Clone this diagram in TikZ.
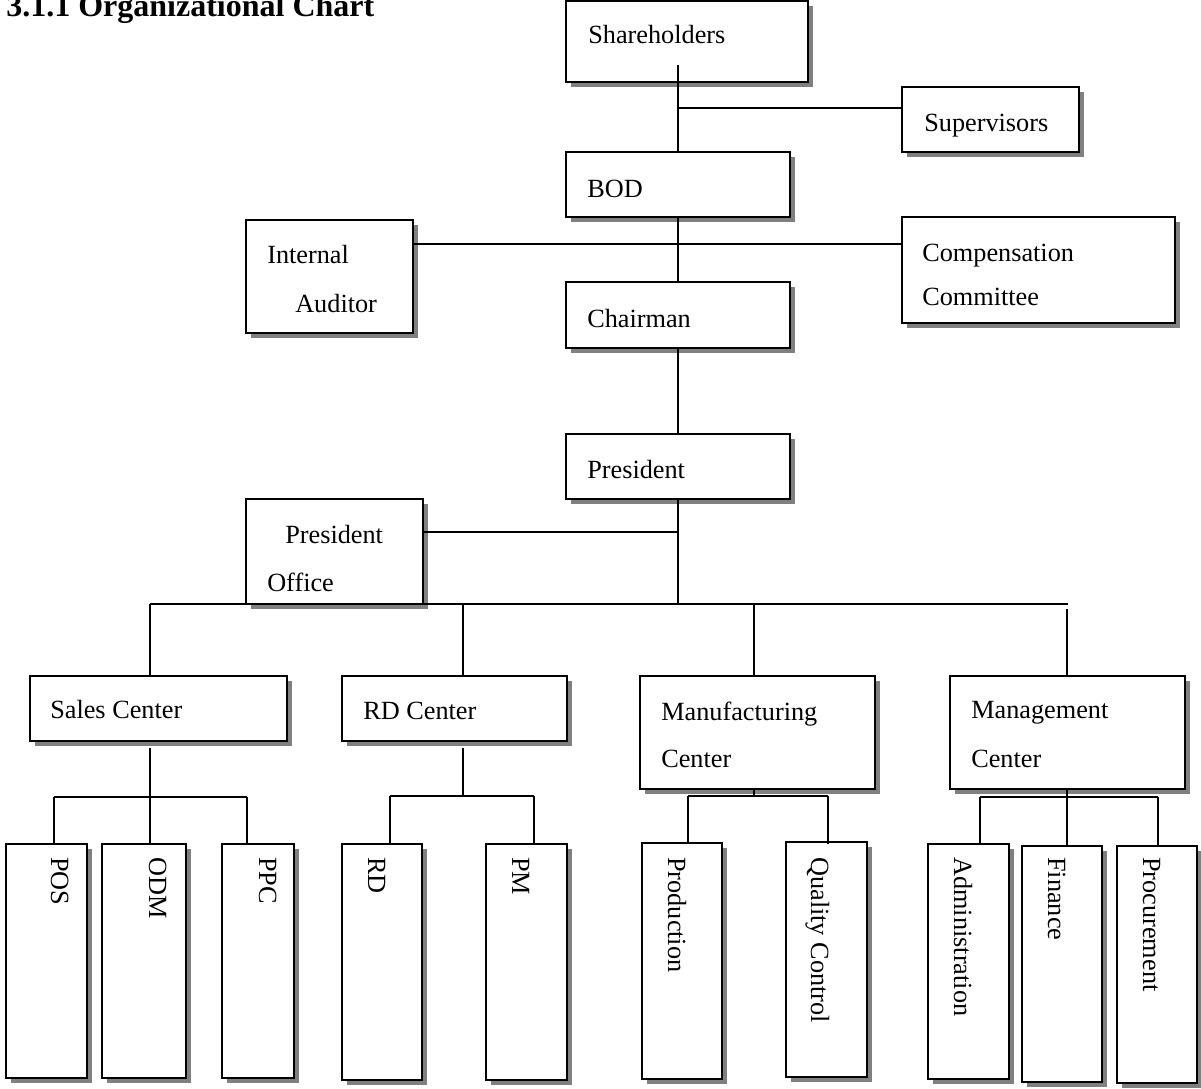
\documentclass[tikz,border=0pt]{standalone}
\usepackage{fontspec}
\setmainfont{Liberation Serif}
\usetikzlibrary{fit,shadows}
\begin{document}
\begin{tikzpicture}[x=0.75pt,y=-0.75pt,
 orgbox/.style={draw=black, line width=1.4pt, fill=white, inner sep=0pt,
   drop shadow={shadow xshift=3.6pt, shadow yshift=-3.6pt, fill=black!50, opacity=1}},
 lbl/.style={inner sep=0pt, anchor=base west, font=\fontsize{19.7}{24}\selectfont},
 vlbl/.style={lbl, rotate=-90},
 conn/.style={line width=1.2pt}]
\useasboundingbox (0,0) rectangle (1201,1088);

% title
\node[inner sep=0pt, anchor=base west, font=\fontsize{24}{28}\selectfont\bfseries] (title) at (6,17) {3.1.1 Organizational Chart};

% boxes
\node[orgbox, fit={(566,1) (808,82)}] (sh) {};
\node[orgbox, fit={(902,87) (1079,152)}] (sup) {};
\node[orgbox, fit={(566,152) (790,217)}] (bod) {};
\node[orgbox, fit={(246,220) (413,333)}] (ia) {};
\node[orgbox, fit={(902,217) (1175,323)}] (comp) {};
\node[orgbox, fit={(566,282) (790,348)}] (ch) {};
\node[orgbox, fit={(566,434) (790,499)}] (pres) {};
\node[orgbox, fit={(246,499) (423,604)}] (po) {};
\node[orgbox, fit={(30,676) (287,741)}] (sales) {};
\node[orgbox, fit={(342,676) (567,741)}] (rdc) {};
\node[orgbox, fit={(640,676) (875,789)}] (mfc) {};
\node[orgbox, fit={(950,676) (1185,789)}] (mgc) {};
\node[orgbox, fit={(6,844) (87,1078)}] (pos) {};
\node[orgbox, fit={(102,844) (186,1078)}] (odm) {};
\node[orgbox, fit={(222,844) (294,1078)}] (ppc) {};
\node[orgbox, fit={(342,844) (422,1080)}] (rd) {};
\node[orgbox, fit={(486,844) (567,1080)}] (pm) {};
\node[orgbox, fit={(642,843) (722,1079)}] (prod) {};
\node[orgbox, fit={(786,842) (867,1077)}] (qc) {};
\node[orgbox, fit={(928,844) (1009,1079)}] (adm) {};
\node[orgbox, fit={(1022,846) (1102,1082)}] (fin) {};
\node[orgbox, fit={(1117,846) (1197,1083)}] (proc) {};

% labels
\node[lbl] (tsh) at (588,44) {Shareholders};
\node[lbl] (tsup) at (924,131) {Supervisors};
\node[lbl] (tbod) at (587,197) {BOD};
\node[lbl] (tia1) at (267,263) {Internal};
\node[lbl] (tia2) at (295,312) {Auditor};
\node[lbl] (tcomp1) at (922,261) {Compensation};
\node[lbl] (tcomp2) at (922,305) {Committee};
\node[lbl] (tch) at (587,327) {Chairman};
\node[lbl] (tpres) at (587,478) {President};
\node[lbl] (tpo1) at (285,543) {President};
\node[lbl] (tpo2) at (267,591) {Office};
\node[lbl] (tsales) at (50,718) {Sales Center};
\node[lbl] (trdc) at (363,719) {RD Center};
\node[lbl] (tmfc1) at (661,720) {Manufacturing};
\node[lbl] (tmfc2) at (661,767) {Center};
\node[lbl] (tmgc1) at (971,718) {Management};
\node[lbl] (tmgc2) at (971,767) {Center};
\node[vlbl] (tpos) at (51,857) {POS};
\node[vlbl] (todm) at (149,857) {ODM};
\node[vlbl] (tppc) at (259,857) {PPC};
\node[vlbl] (trd) at (368,857) {RD};
\node[vlbl] (tpm) at (512,857) {PM};
\node[vlbl] (tprod) at (668,857) {Production};
\node[vlbl] (tqc) at (811,857) {Quality Control};
\node[vlbl] (tadm) at (954,857) {Administration};
\node[vlbl] (tfin) at (1048,857) {Finance};
\node[vlbl] (tproc) at (1143,857) {Procurement};

% junction coordinates
\coordinate (j1) at (678,65);
\coordinate (j2) at (678,108);
\coordinate (j3) at (678,244);
\coordinate (j4) at (678,532);
\coordinate (busL) at (150,604);
\coordinate (busR) at (1068,604);
\coordinate (bus) at (678,604);
\coordinate (dR) at (463,604);
\coordinate (dM) at (754,604);
\coordinate (dG) at (1067,609);

% top connectors
\draw[conn] (j1) -- (bod.north);
\draw[conn] (j2) -- (j2 -| sup.west);
\draw[conn] (bod.south) -- (ch.north);
\draw[conn] (ia.east |- j3) -- (comp.west |- j3);
\draw[conn] (ch.south) -- (pres.north);
\draw[conn] (pres.south) -- (bus);
\draw[conn] (po.east |- j4) -- (j4);
\draw[conn] (busL) -- (busR);
\draw[conn] (busL) -- (busL |- sales.north);
\draw[conn] (dR) -- (dR |- rdc.north);
\draw[conn] (dM) -- (dM |- mfc.north);
\draw[conn] (dG) -- (dG |- mgc.north);

% sales subtree
\coordinate (sS) at (150,748);
\coordinate (hS) at (150,797);
\coordinate (hS1) at (54,797);
\coordinate (hS3) at (247,797);
\draw[conn] (sS) -- (hS);
\draw[conn] (hS1) -- (hS3);
\draw[conn] (hS1) -- (hS1 |- pos.north);
\draw[conn] (hS) -- (hS |- odm.north);
\draw[conn] (hS3) -- (hS3 |- ppc.north);

% RD subtree
\coordinate (sR) at (463,748);
\coordinate (hR) at (463,796);
\coordinate (hR1) at (390,796);
\coordinate (hR2) at (534,796);
\draw[conn] (sR) -- (hR);
\draw[conn] (hR1) -- (hR2);
\draw[conn] (hR1) -- (hR1 |- rd.north);
\draw[conn] (hR2) -- (hR2 |- pm.north);

% manufacturing subtree
\coordinate (sM) at (754,789);
\coordinate (hM) at (754,796);
\coordinate (hM1) at (688,796);
\coordinate (hM2) at (828,796);
\draw[conn] (sM) -- (hM);
\draw[conn] (hM1) -- (hM2);
\draw[conn] (hM1) -- (hM1 |- prod.north);
\draw[conn] (hM2) -- ([yshift=-2pt]hM2 |- qc.north);

% management subtree
\coordinate (sG) at (1067,789);
\coordinate (hG) at (1067,797);
\coordinate (hG1) at (980,797);
\coordinate (hG3) at (1158,797);
\draw[conn] (sG) -- (hG);
\draw[conn] (hG1) -- (hG3);
\draw[conn] (hG1) -- (hG1 |- adm.north);
\draw[conn] (hG) -- (hG |- fin.north);
\draw[conn] (hG3) -- (hG3 |- proc.north);
\end{tikzpicture}
\end{document}
